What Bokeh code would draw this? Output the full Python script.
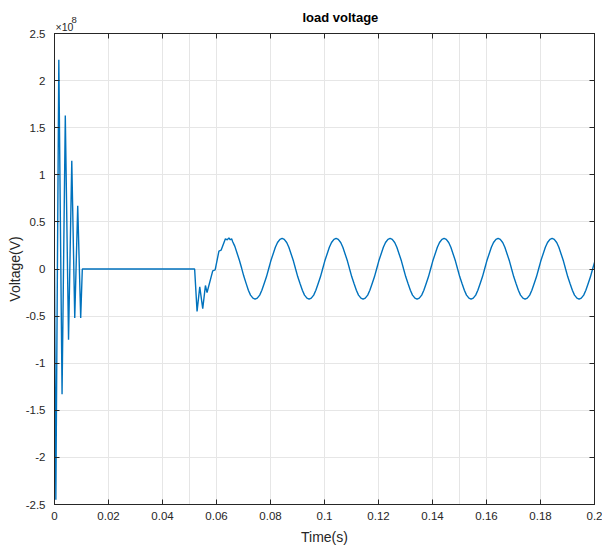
from bokeh.plotting import figure
from bokeh.models import Range1d, LinearAxis, FixedTicker, Title, CustomJSTickFormatter, Grid
from bokeh.embed import file_html
from bokeh.resources import INLINE

# ---- data (time in s, voltage in units of 1e8 V) ----
burst_t = [0.0, 0.0005, 0.0016, 0.0028, 0.0040, 0.0052, 0.0064, 0.0075, 0.0086, 0.0097, 0.0103, 0.0519]
burst_v = [0.0, -2.45, 2.22, -1.33, 1.63, -0.75, 1.15, -0.52, 0.67, -0.52, 0.0, 0.0]

transient_t = [0.0528, 0.0538, 0.0549, 0.0559, 0.0565, 0.0586, 0.0595, 0.0609, 0.0617, 0.0633,
               0.0640, 0.0646, 0.0651, 0.0656, 0.0660, 0.0668, 0.0676, 0.0685, 0.0693, 0.0701,
               0.0710, 0.0718, 0.0726, 0.0735, 0.0743, 0.0751, 0.0760, 0.0768, 0.0776, 0.0785]
transient_v = [-0.45, -0.19, -0.42, -0.175, -0.25, -0.02, -0.01, 0.19, 0.20, 0.32,
               0.31, 0.33, 0.31, 0.32, 0.29, 0.24, 0.17, 0.09, 0.01, -0.075,
               -0.155, -0.225, -0.277, -0.309, -0.32, -0.309, -0.277, -0.226, -0.16, -0.083]

steady_t = [0.0793, 0.0801, 0.0810, 0.0818, 0.0826, 0.0835, 0.0843, 0.0851, 0.0860, 0.0868, 0.0876, 0.0885,
            0.0893, 0.0901, 0.0910, 0.0918, 0.0926, 0.0935, 0.0943, 0.0951, 0.0960, 0.0968, 0.0976, 0.0985,
            0.0993, 0.1001, 0.1010, 0.1018, 0.1026, 0.1035, 0.1043, 0.1051, 0.1060, 0.1068, 0.1076, 0.1085,
            0.1093, 0.1101, 0.1110, 0.1118, 0.1126, 0.1135, 0.1143, 0.1151, 0.1160, 0.1168, 0.1176, 0.1185,
            0.1193, 0.1201, 0.1210, 0.1218, 0.1226, 0.1235, 0.1243, 0.1251, 0.1260, 0.1268, 0.1276, 0.1285,
            0.1293, 0.1301, 0.1310, 0.1318, 0.1326, 0.1335, 0.1343, 0.1351, 0.1360, 0.1368, 0.1376, 0.1385,
            0.1393, 0.1401, 0.1410, 0.1418, 0.1426, 0.1435, 0.1443, 0.1451, 0.1460, 0.1468, 0.1476, 0.1485,
            0.1493, 0.1501, 0.1510, 0.1518, 0.1526, 0.1535, 0.1543, 0.1551, 0.1560, 0.1568, 0.1576, 0.1585,
            0.1593, 0.1601, 0.1610, 0.1618, 0.1626, 0.1635, 0.1643, 0.1651, 0.1660, 0.1668, 0.1676, 0.1685,
            0.1693, 0.1701, 0.1710, 0.1718, 0.1726, 0.1735, 0.1743, 0.1751, 0.1760, 0.1768, 0.1776, 0.1785,
            0.1793, 0.1801, 0.1810, 0.1818, 0.1826, 0.1835, 0.1843, 0.1851, 0.1860, 0.1868, 0.1876, 0.1885,
            0.1893, 0.1901, 0.1910, 0.1918, 0.1926, 0.1935, 0.1943, 0.1951, 0.1960, 0.1968, 0.1976, 0.1985,
            0.1993, 0.2000]
steady_v = [0.0, 0.084, 0.1625, 0.23, 0.281, 0.314, 0.325, 0.314, 0.281, 0.23, 0.1625, 0.084,
            0.0, -0.083, -0.16, -0.226, -0.277, -0.309, -0.32, -0.309, -0.277, -0.226, -0.16, -0.083,
            0.0, 0.084, 0.1625, 0.23, 0.281, 0.314, 0.325, 0.314, 0.281, 0.23, 0.1625, 0.084,
            0.0, -0.083, -0.16, -0.226, -0.277, -0.309, -0.32, -0.309, -0.277, -0.226, -0.16, -0.083,
            0.0, 0.084, 0.1625, 0.23, 0.281, 0.314, 0.325, 0.314, 0.281, 0.23, 0.1625, 0.084,
            0.0, -0.083, -0.16, -0.226, -0.277, -0.309, -0.32, -0.309, -0.277, -0.226, -0.16, -0.083,
            0.0, 0.084, 0.1625, 0.23, 0.281, 0.314, 0.325, 0.314, 0.281, 0.23, 0.1625, 0.084,
            0.0, -0.083, -0.16, -0.226, -0.277, -0.309, -0.32, -0.309, -0.277, -0.226, -0.16, -0.083,
            0.0, 0.084, 0.1625, 0.23, 0.281, 0.314, 0.325, 0.314, 0.281, 0.23, 0.1625, 0.084,
            0.0, -0.083, -0.16, -0.226, -0.277, -0.309, -0.32, -0.309, -0.277, -0.226, -0.16, -0.083,
            0.0, 0.084, 0.1625, 0.23, 0.281, 0.314, 0.325, 0.314, 0.281, 0.23, 0.1625, 0.084,
            0.0, -0.083, -0.16, -0.226, -0.277, -0.309, -0.32, -0.309, -0.277, -0.226, -0.16, -0.083,
            0.0, 0.07]

x_ticks = [0, 0.02, 0.04, 0.06, 0.08, 0.1, 0.12, 0.14, 0.16, 0.18, 0.2]
y_ticks = [-2.5, -2, -1.5, -1, -0.5, 0, 0.5, 1, 1.5, 2, 2.5]

title_text = "load voltage"
x_label = "Time(s)"
y_label = "Voltage(V)"
exponent_base = "\u00d710"
exponent_power = "8"

t = burst_t + transient_t + steady_t
v = burst_v + transient_v + steady_v

FONT = "Liberation Sans"
AX_COLOR = "#262626"
LINE_COLOR = "#0072BD"

p = figure(width=602, height=548, output_backend="svg", toolbar_location=None,
           x_range=Range1d(0, 0.2), y_range=Range1d(-2.5, 2.5),
           x_axis_location=None, y_axis_location=None,
           min_border_left=54, min_border_right=8, min_border_top=33, min_border_bottom=44)
p.background_fill_color = "white"
p.border_fill_color = "white"
p.outline_line_color = AX_COLOR
p.outline_line_width = 1

fmt = CustomJSTickFormatter(code="var s = tick.toFixed(2); if (s.indexOf('.')>=0) { s = s.replace(/0+$/,'').replace(/\\.$/,''); } if (s=='-0') s='0'; return s;")
blank = CustomJSTickFormatter(code="return '';")

def make_axis(ticks, formatter, label=None):
    ax = LinearAxis(ticker=FixedTicker(ticks=ticks), formatter=formatter,
                    major_tick_in=5, major_tick_out=0, minor_tick_in=0, minor_tick_out=0,
                    axis_line_color=AX_COLOR, major_tick_line_color=AX_COLOR,
                    major_label_text_font=FONT, major_label_text_font_size="11.5px",
                    major_label_text_color=AX_COLOR)
    if label is not None:
        ax.axis_label = label
        ax.axis_label_text_font = FONT
        ax.axis_label_text_font_size = "14px"
        ax.axis_label_text_font_style = "normal"
        ax.axis_label_text_color = AX_COLOR
    return ax

xb = make_axis(x_ticks, fmt, x_label)
xb.major_label_standoff = 7
xb.axis_label_standoff = 6
p.add_layout(xb, "below")

yl = make_axis(y_ticks, fmt, y_label)
yl.major_label_standoff = 9
yl.axis_label_standoff = 0
p.add_layout(yl, "left")

xt = make_axis(x_ticks, blank)
xt.major_label_standoff = 0
p.add_layout(xt, "above")
yr = make_axis(y_ticks, blank)
yr.major_label_standoff = 0
p.add_layout(yr, "right")

p.add_layout(Grid(dimension=0, ticker=FixedTicker(ticks=x_ticks), grid_line_color="#e6e6e6", grid_line_width=1))
p.add_layout(Grid(dimension=1, ticker=FixedTicker(ticks=y_ticks), grid_line_color="#e6e6e6", grid_line_width=1))

p.line(t, v, line_color=LINE_COLOR, line_width=1.4)

# exponent marker (x10^8) as small titles in the top panel
p.add_layout(Title(text=exponent_base, align="left", offset=1, vertical_align="top", standoff=-2,
                   text_font=FONT, text_font_size="10.5px", text_font_style="normal",
                   text_color=AX_COLOR), "above")
p.add_layout(Title(text=exponent_power, align="left", offset=17, vertical_align="top", standoff=-9,
                   text_font=FONT, text_font_size="9.5px", text_font_style="normal",
                   text_color=AX_COLOR), "above")

p.title.text = title_text
p.title.align = "left"
p.title.offset = 248
p.title.vertical_align = "top"
p.title.standoff = -11
p.title.text_font = FONT
p.title.text_font_size = "13px"
p.title.text_font_style = "bold"
p.title.text_color = "#000000"

open("out.html", "w").write(file_html(p, INLINE))
